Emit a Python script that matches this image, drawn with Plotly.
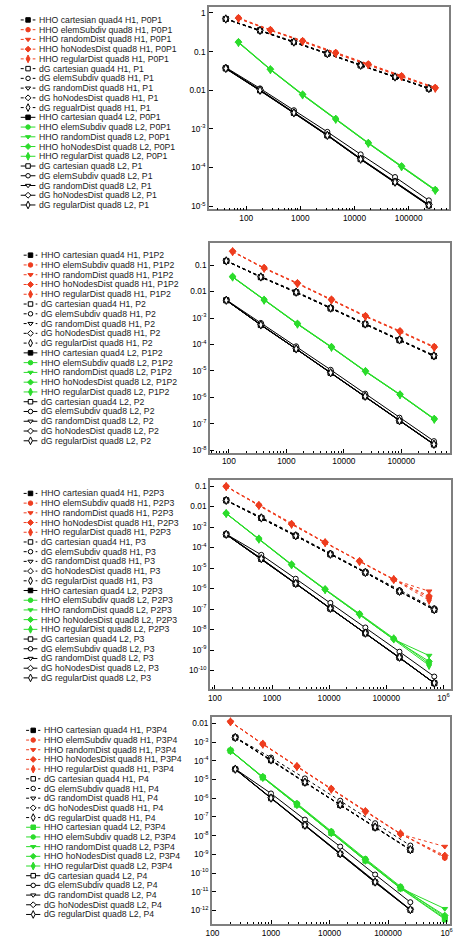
import plotly.graph_objects as go

# ------------------------------------------------------------------ data
SCHEMES = ["cartesian", "elemSubdiv", "randomDist", "hoNodesDist", "regularDist"]

# ---- panel 1 (P0P1 / P1)
p1_x_hho = [72, 280, 1100, 4500, 18000, 74000, 310000]
p1_x_dg = [42, 180, 760, 3150, 13000, 56000, 236000]
p1_h1_hho = [
    [0.70, 0.355, 0.178, 0.089, 0.0445, 0.0222, 0.0111],
    [0.75, 0.37, 0.192, 0.095, 0.048, 0.0237, 0.0118],
    [0.71, 0.35, 0.180, 0.088, 0.0445, 0.0222, 0.0111],
    [0.73, 0.36, 0.186, 0.092, 0.0465, 0.0230, 0.0115],
    [0.72, 0.355, 0.183, 0.090, 0.0455, 0.0226, 0.0113],
]
p1_h1_dg = [
    [0.70, 0.352, 0.176, 0.088, 0.044, 0.0220, 0.0110],
    [0.71, 0.362, 0.182, 0.091, 0.0455, 0.0228, 0.0114],
    [0.69, 0.348, 0.175, 0.0875, 0.0437, 0.0219, 0.0109],
    [0.705, 0.356, 0.179, 0.0895, 0.0448, 0.0224, 0.0112],
    [0.70, 0.354, 0.177, 0.0885, 0.0443, 0.0221, 0.0111],
]
p1_l2_hho = [
    [0.037, 0.0100, 2.6e-3, 6.8e-4, 1.65e-4, 4.2e-5, 1.05e-5],
    [0.178, 0.0352, 7.9e-3, 1.85e-3, 4.4e-4, 1.10e-4, 2.7e-5],
    [0.170, 0.0338, 7.5e-3, 1.75e-3, 4.2e-4, 1.04e-4, 2.55e-5],
    [0.174, 0.0345, 7.7e-3, 1.80e-3, 4.3e-4, 1.07e-4, 2.6e-5],
    [0.172, 0.0341, 7.6e-3, 1.78e-3, 4.25e-4, 1.05e-4, 2.58e-5],
]
p1_l2_dg = [
    [0.037, 0.0101, 2.62e-3, 6.9e-4, 1.68e-4, 4.3e-5, 1.08e-5],
    [0.039, 0.0112, 3.05e-3, 8.4e-4, 2.2e-4, 5.7e-5, 1.42e-5],
    [0.036, 0.0098, 2.55e-3, 6.7e-4, 1.62e-4, 4.1e-5, 1.03e-5],
    [0.0375, 0.0103, 2.7e-3, 7.1e-4, 1.72e-4, 4.4e-5, 1.1e-5],
    [0.0368, 0.0100, 2.6e-3, 6.8e-4, 1.65e-4, 4.2e-5, 1.05e-5],
]
p1_labels = [
    "HHO cartesian quad4 H1, P0P1", "HHO elemSubdiv quad8 H1, P0P1",
    "HHO randomDist quad8 H1, P0P1", "HHO hoNodesDist quad8 H1, P0P1",
    "HHO regularDist quad8 H1, P0P1", "dG cartesian quad4 H1, P1",
    "dG elemSubdiv quad8 H1, P1", "dG randomDist quad8 H1, P1",
    "dG hoNodesDist quad8 H1, P1", "dG regualrDist quad8 H1, P1",
    "HHO cartesian quad4 L2, P0P1", "HHO elemSubdiv quad8 L2, P0P1",
    "HHO randomDist quad8 L2, P0P1", "HHO hoNodesDist quad8 L2, P0P1",
    "HHO regularDist quad8 L2, P0P1", "dG cartesian quad8 L2, P1",
    "dG elemSubdiv quad8 L2, P1", "dG randomDist quad8 L2, P1",
    "dG hoNodesDist quad8 L2, P1", "dG regularDist quad8 L2, P1",
]

# ---- panel 2 (P1P2 / P2)
p2_x_hho = [116, 410, 1560, 6100, 23800, 95000, 375000]
p2_x_dg = [90, 360, 1480, 5900, 23500, 93000, 370000]
p2_h1_hho = [
    [0.145, 0.035, 9.3e-3, 2.3e-3, 5.8e-4, 1.45e-4, 3.6e-5],
    [0.335, 0.080, 0.0212, 5.1e-3, 1.22e-3, 3.25e-4, 8.3e-5],
    [0.322, 0.075, 0.0198, 4.75e-3, 1.13e-3, 3.0e-4, 7.6e-5],
    [0.328, 0.077, 0.0204, 4.9e-3, 1.17e-3, 3.1e-4, 7.9e-5],
    [0.325, 0.076, 0.0201, 4.82e-3, 1.15e-3, 3.05e-4, 7.75e-5],
]
p2_h1_dg = [
    [0.144, 0.0355, 9.4e-3, 2.35e-3, 5.9e-4, 1.47e-4, 3.65e-5],
    [0.148, 0.0375, 0.0100, 2.5e-3, 6.3e-4, 1.57e-4, 3.9e-5],
    [0.143, 0.0352, 9.3e-3, 2.33e-3, 5.85e-4, 1.46e-4, 3.6e-5],
    [0.146, 0.0362, 9.65e-3, 2.42e-3, 6.05e-4, 1.51e-4, 3.75e-5],
    [0.145, 0.0358, 9.5e-3, 2.38e-3, 5.95e-4, 1.49e-4, 3.7e-5],
]
p2_l2_hho = [
    [4.7e-3, 5.4e-4, 6.7e-5, 8.4e-6, 1.08e-6, 1.28e-7, 1.65e-8],
    [0.037, 4.95e-3, 6.2e-4, 8.15e-5, 9.9e-6, 1.30e-6, 1.56e-7],
    [0.0352, 4.7e-3, 5.85e-4, 7.7e-5, 9.35e-6, 1.23e-6, 1.46e-7],
    [0.036, 4.8e-3, 6.0e-4, 7.9e-5, 9.6e-6, 1.26e-6, 1.5e-7],
    [0.0356, 4.75e-3, 5.9e-4, 7.8e-5, 9.5e-6, 1.24e-6, 1.48e-7],
]
p2_l2_dg = [
    [4.7e-3, 5.5e-4, 6.8e-5, 8.5e-6, 1.1e-6, 1.29e-7, 1.66e-8],
    [4.9e-3, 6.5e-4, 8.5e-5, 1.1e-5, 1.38e-6, 1.7e-7, 2.2e-8],
    [4.65e-3, 5.4e-4, 6.7e-5, 8.3e-6, 1.07e-6, 1.26e-7, 1.62e-8],
    [4.75e-3, 5.6e-4, 6.9e-5, 8.7e-6, 1.12e-6, 1.32e-7, 1.7e-8],
    [4.7e-3, 5.5e-4, 6.8e-5, 8.5e-6, 1.1e-6, 1.3e-7, 1.67e-8],
]
p2_labels = [
    "HHO cartesian quad4 H1, P1P2", "HHO elemSubdiv quad8 H1, P1P2",
    "HHO randomDist quad8 H1, P1P2", "HHO hoNodesDist quad8 H1, P1P2",
    "HHO regularDist quad8 H1, P1P2", "dG cartesian quad4 H1, P2",
    "dG elemSubdiv quad8 H1, P2", "dG randomDist quad8 H1, P2",
    "dG hoNodesDist quad8 H1, P2", "dG regularDist quad8 H1, P2",
    "HHO cartesian quad4 L2, P1P2", "HHO elemSubdiv quad8 L2, P1P2",
    "HHO randomDist quad8 L2, P1P2", "HHO hoNodesDist quad8 L2, P1P2",
    "HHO regularDist quad8 L2, P1P2", "dG cartesian quad4 L2, P2",
    "dG elemSubdiv quad8 L2, P2", "dG randomDist quad8 L2, P2",
    "dG hoNodesDist quad8 L2, P2", "dG regularDist quad8 L2, P2",
]

# ---- panel 3 (P2P3 / P3)
p3_x_hho = [158, 590, 2200, 8500, 34000, 135000, 560000]
p3_x_dg = [158, 650, 2600, 10500, 43000, 170000, 690000]
p3_h1_hho = [
    [0.020, 2.75e-3, 3.7e-4, 4.7e-5, 6.0e-6, 7.2e-7, 9.2e-8],
    [0.097, 0.0118, 1.42e-3, 1.80e-4, 2.2e-5, 2.8e-6, 3.5e-7],
    [0.093, 0.0112, 1.34e-3, 1.70e-4, 2.05e-5, 2.65e-6, 7.4e-7],
    [0.095, 0.0115, 1.38e-3, 1.74e-4, 2.1e-5, 2.7e-6, 4.3e-7],
    [0.094, 0.0113, 1.36e-3, 1.72e-4, 2.08e-5, 2.75e-6, 2.7e-7],
]
p3_h1_dg = [
    [0.0198, 2.75e-3, 3.7e-4, 4.7e-5, 6.0e-6, 7.2e-7, 9.2e-8],
    [0.0205, 3.0e-3, 4.1e-4, 5.3e-5, 6.8e-6, 8.3e-7, 1.08e-7],
    [0.0196, 2.72e-3, 3.65e-4, 4.65e-5, 5.95e-6, 7.1e-7, 9.1e-8],
    [0.0201, 2.8e-3, 3.78e-4, 4.8e-5, 6.15e-6, 7.4e-7, 9.5e-8],
    [0.0199, 2.77e-3, 3.72e-4, 4.72e-5, 6.05e-6, 7.3e-7, 9.3e-8],
]
p3_l2_hho = [
    [4.3e-4, 2.75e-5, 1.72e-6, 1.05e-7, 6.5e-9, 4.3e-10, 2.4e-11],
    [4.7e-3, 2.7e-4, 1.52e-5, 9.4e-7, 5.9e-8, 3.7e-9, 2.2e-10],
    [4.5e-3, 2.55e-4, 1.4e-5, 8.6e-7, 5.3e-8, 3.3e-9, 5.4e-10],
    [4.6e-3, 2.6e-4, 1.45e-5, 8.9e-7, 5.5e-8, 3.4e-9, 2.8e-10],
    [4.55e-3, 2.58e-4, 1.43e-5, 8.8e-7, 5.4e-8, 3.5e-9, 1.8e-10],
]
p3_l2_dg = [
    [4.35e-4, 2.8e-5, 1.74e-6, 1.07e-7, 6.6e-9, 4.4e-10, 2.45e-11],
    [4.5e-4, 4.4e-5, 3.0e-6, 2.0e-7, 1.26e-8, 8.3e-10, 5.1e-11],
    [4.3e-4, 2.75e-5, 1.7e-6, 1.05e-7, 6.5e-9, 4.3e-10, 2.4e-11],
    [4.45e-4, 2.9e-5, 1.8e-6, 1.1e-7, 6.8e-9, 4.5e-10, 2.5e-11],
    [4.4e-4, 2.85e-5, 1.76e-6, 1.08e-7, 6.7e-9, 4.45e-10, 2.48e-11],
]
p3_labels = [
    "HHO cartesian quad4 H1, P2P3", "HHO elemSubdiv quad8 H1, P2P3",
    "HHO randomDist quad8 H1, P2P3", "HHO hoNodesDist quad8 H1, P2P3",
    "HHO regularDist quad8 H1, P2P3", "dG cartesian quad4 H1, P3",
    "dG elemSubdiv quad8 H1, P3", "dG randomDist quad8 H1, P3",
    "dG hoNodesDist quad8 H1, P3", "dG regularDist quad8 H1, P3",
    "HHO cartesian quad4 L2, P2P3", "HHO elemSubdiv quad8 L2, P2P3",
    "HHO randomDist quad8 L2, P2P3", "HHO hoNodesDist quad8 L2, P2P3",
    "HHO regularDist quad8 L2, P2P3", "dG cartesian quad4 L2, P3",
    "dG elemSubdiv quad8 L2, P3", "dG randomDist quad8 L2, P3",
    "dG hoNodesDist quad8 L2, P3", "dG regularDist quad8 L2, P3",
]

# ---- panel 4 (P3P4 / P4)
p4_x_hho = [203, 725, 2770, 10700, 41000, 163000, 930000]
p4_x_dg = [245, 1000, 3800, 15200, 60000, 240000]
p4_h1_hho = [
    [1.75e-3, 1.08e-4, 6.9e-6, 4.3e-7, 2.7e-8, 1.7e-9],
    [0.0125, 8.1e-4, 5.2e-5, 3.25e-6, 2.05e-7, 1.28e-8, 6.5e-10],
    [0.0121, 7.7e-4, 4.85e-5, 3.0e-6, 1.9e-7, 1.2e-8, 2.6e-9],
    [0.0123, 7.9e-4, 5.0e-5, 3.1e-6, 1.95e-7, 1.23e-8, 8.7e-10],
    [0.0122, 7.8e-4, 4.95e-5, 3.05e-6, 1.92e-7, 1.25e-8, 7.5e-10],
]
p4_h1_dg = [
    [1.77e-3, 1.1e-4, 7.1e-6, 4.4e-7, 2.8e-8, 1.74e-9],
    [1.8e-3, 1.5e-4, 1.15e-5, 7.4e-7, 4.6e-8, 2.95e-9],
    [1.75e-3, 1.08e-4, 6.9e-6, 4.3e-7, 2.72e-8, 1.7e-9],
    [1.79e-3, 1.13e-4, 7.3e-6, 4.55e-7, 2.9e-8, 1.8e-9],
    [1.78e-3, 1.12e-4, 7.2e-6, 4.5e-7, 2.85e-8, 1.77e-9],
]
p4_l2_hho = [
    [3.5e-4, 1.28e-5, 4.5e-7, 1.4e-8, 4.6e-10, 1.5e-11, 3.4e-13],
    [3.6e-4, 1.4e-5, 5.3e-7, 1.7e-8, 5.8e-10, 1.9e-11, 4.5e-13],
    [3.45e-4, 1.27e-5, 4.45e-7, 1.37e-8, 4.6e-10, 1.55e-11, 1.23e-12],
    [3.55e-4, 1.35e-5, 4.9e-7, 1.55e-8, 5.2e-10, 1.7e-11, 5.4e-13],
    [3.5e-4, 1.3e-5, 4.6e-7, 1.45e-8, 4.9e-10, 1.6e-11, 3.8e-13],
]
p4_l2_dg = [
    [3.55e-5, 1.0e-6, 3.5e-8, 1.05e-9, 3.2e-11, 1.07e-12],
    [3.7e-5, 1.8e-6, 7.2e-8, 2.6e-9, 8.3e-11, 2.75e-12],
    [3.5e-5, 9.8e-7, 3.4e-8, 1.02e-9, 3.1e-11, 1.04e-12],
    [3.6e-5, 1.05e-6, 3.7e-8, 1.1e-9, 3.35e-11, 1.12e-12],
    [3.58e-5, 1.02e-6, 3.6e-8, 1.08e-9, 3.3e-11, 1.1e-12],
]
p4_labels = [
    "HHO cartesian quad4 H1, P3P4", "HHO elemSubdiv quad8 H1, P3P4",
    "HHO randomDist quad8 H1, P3P4", "HHO hoNodesDist quad8 H1, P3P4",
    "HHO regularDist quad8 H1, P3P4", "dG cartesian quad4 H1, P4",
    "dG elemSubdiv quad8 H1, P4", "dG randomDist quad8 H1, P4",
    "dG hoNodesDist quad8 H1, P4", "dG regularDist quad8 H1, P4",
    "HHO cartesian quad4 L2, P3P4", "HHO elemSubdiv quad8 L2, P3P4",
    "HHO randomDist quad8 L2, P3P4", "HHO hoNodesDist quad8 L2, P3P4",
    "HHO regularDist quad8 L2, P3P4", "dG cartesian quad4 L2, P4",
    "dG elemSubdiv quad8 L2, P4", "dG randomDist quad8 L2, P4",
    "dG hoNodesDist quad8 L2, P4", "dG regularDist quad8 L2, P4",
]

# tick labels
x_tickvals = [100, 1000, 10000, 100000, 1000000]
x_ticktext = ["100", "1000", "10000", "100000", "10<sup>6</sup>"]
y_tickvals = [1, 0.1, 0.01] + [10.0 ** -k for k in range(3, 13)]
y_ticktext = ["1", "0.1", "0.01"] + ["10<sup>-%d</sup>" % k for k in range(3, 13)]

# ------------------------------------------------------------------ style
W, H = 460, 941
RED = "#ee3d1f"
GREEN = "#2bdc2b"
BLACK = "#000000"
SYMBOLS = ["square", "circle", "triangle-down", "diamond", "diamond-tall"]
FONT = "Liberation Sans, Arial, sans-serif"

# panel frames in pixels: left, right, top, bottom ; axis log ranges
panels = [
    dict(px=(207, 452, 7, 210), xr=(1.312, 5.748), yr=(-5.08, 0.155),
         xh=p1_x_hho, xd=p1_x_dg, h1h=p1_h1_hho, h1d=p1_h1_dg, l2h=p1_l2_hho, l2d=p1_l2_dg,
         labels=p1_labels, cart_l2_color=BLACK,
         leg=(20.0, 9.77, 15, 30, 32)),
    dict(px=(208, 453, 244, 454), xr=(1.67, 5.85), yr=(-8.09, -0.17),
         xh=p2_x_hho, xd=p2_x_dg, h1h=p2_h1_hho, h1d=p2_h1_dg, l2h=p2_l2_hho, l2d=p2_l2_dg,
         labels=p2_labels, cart_l2_color=BLACK,
         leg=(256.0, 9.8, 18, 32, 33.5)),
    dict(px=(208, 454, 482, 691), xr=(1.914, 6.134), yr=(-10.89, -0.73),
         xh=p3_x_hho, xd=p3_x_dg, h1h=p3_h1_hho, h1d=p3_h1_dg, l2h=p3_l2_hho, l2d=p3_l2_dg,
         labels=p3_labels, cart_l2_color=BLACK,
         leg=(495.0, 9.74, 18, 32, 33.5)),
    dict(px=(210, 453, 719, 927), xr=(1.99, 6.06), yr=(-12.73, -1.64),
         xh=p4_x_hho, xd=p4_x_dg, h1h=p4_h1_hho, h1d=p4_h1_dg, l2h=p4_l2_hho, l2d=p4_l2_dg,
         labels=p4_labels, cart_l2_color=GREEN,
         leg=(732.7, 9.72, 20.5, 35, 37)),
]

fig = go.Figure()
layout = dict(width=W, height=H, margin=dict(l=0, r=0, t=0, b=0),
              paper_bgcolor="white", plot_bgcolor="white", showlegend=False,
              font=dict(family=FONT, size=8.3, color="black"))
annotations = []

LEG_X = "x5"
LEG_Y = "y5"
layout["xaxis5"] = dict(domain=[0, 200 / W], range=[0, 200], visible=False, fixedrange=True)
layout["yaxis5"] = dict(domain=[0, 1], range=[H, 0], visible=False, fixedrange=True)


def series_specs(p):
    """Return list of 20 (x, y, color, symbol, filled, dash) in legend order."""
    specs = []
    for i in range(5):
        col = BLACK if i == 0 else RED
        xs = p["xd"] if i == 0 else p["xh"]
        specs.append((xs, p["h1h"][i], col, SYMBOLS[i], True, "dot"))
    for i in range(5):
        specs.append((p["xd"], p["h1d"][i], BLACK, SYMBOLS[i], False, "dot"))
    for i in range(5):
        if i == 0:
            col = p["cart_l2_color"]
            xs = p["xd"] if col == BLACK else p["xh"]
        else:
            col = GREEN
            xs = p["xh"]
        specs.append((xs, p["l2h"][i], col, SYMBOLS[i], True, "solid"))
    for i in range(5):
        specs.append((p["xd"], p["l2d"][i], BLACK, SYMBOLS[i], False, "solid"))
    return specs


for k, p in enumerate(panels):
    n = k + 1
    xa = "x" if n == 1 else "x%d" % n
    ya = "y" if n == 1 else "y%d" % n
    L, R, T, B = p["px"]
    layout["xaxis" if n == 1 else "xaxis%d" % n] = dict(
        type="log", range=list(p["xr"]), domain=[L / W, R / W], anchor=ya,
        tickmode="array", tickvals=x_tickvals, ticktext=x_ticktext,
        ticks="inside", ticklen=4, tickwidth=1, tickcolor="black",
        minor=dict(ticks="inside", ticklen=2, tickwidth=1, tickcolor="black", dtick="D1"),
        showline=True, linecolor="#7f7f7f", linewidth=1.5, mirror=True,
        showgrid=False, zeroline=False, tickfont=dict(size=8.3, color="black"),
        fixedrange=True)
    layout["yaxis" if n == 1 else "yaxis%d" % n] = dict(
        type="log", range=list(p["yr"]), domain=[1 - B / H, 1 - T / H], anchor=xa,
        tickmode="array", tickvals=y_tickvals, ticktext=y_ticktext,
        ticks="inside", ticklen=4, tickwidth=1, tickcolor="black",
        showline=True, linecolor="#7f7f7f", linewidth=1.5, mirror=True,
        showgrid=False, zeroline=False, tickfont=dict(size=8.3, color="black"),
        fixedrange=True)

    specs = series_specs(p)
    order = [0, 10] + list(range(5, 10)) + list(range(15, 20)) + [1, 2, 3, 4, 11, 12, 13, 14]
    for idx in order:
        xs, ys, col, sym, filled, dash = specs[idx]
        fig.add_trace(go.Scatter(
            x=xs, y=ys, xaxis=xa, yaxis=ya, mode="lines+markers",
            line=dict(color=col, width=1, dash=dash),
            marker=dict(symbol=sym, size=5 if sym != "diamond-tall" else 6,
                        color=col if filled else "white",
                        line=dict(color=col, width=1)),
            hoverinfo="skip"))

    # hand-drawn legend
    y0, dy, lx0, lx1, tx = p["leg"]
    for i, (xs, ys, col, sym, filled, dash) in enumerate(specs):
        yy = y0 + i * dy
        fig.add_trace(go.Scatter(
            x=[lx0, (lx0 + lx1) / 2, lx1], y=[yy, yy, yy], xaxis=LEG_X, yaxis=LEG_Y,
            mode="lines+markers",
            line=dict(color=col, width=1, dash="dot" if dash == "dot" else "solid"),
            marker=dict(symbol=sym, size=4.5 if sym != "diamond-tall" else 5.5,
                        color=col if filled else "white", opacity=[0, 1, 0],
                        line=dict(color=col, width=1)),
            hoverinfo="skip"))
        annotations.append(dict(
            x=tx, y=yy, xref=LEG_X, yref=LEG_Y, text=p["labels"][i], showarrow=False,
            xanchor="left", yanchor="middle", font=dict(family=FONT, size=8.7, color="#1a1a1a")))

layout["annotations"] = annotations
fig.update_layout(**layout)
fig.write_html("out.html")
